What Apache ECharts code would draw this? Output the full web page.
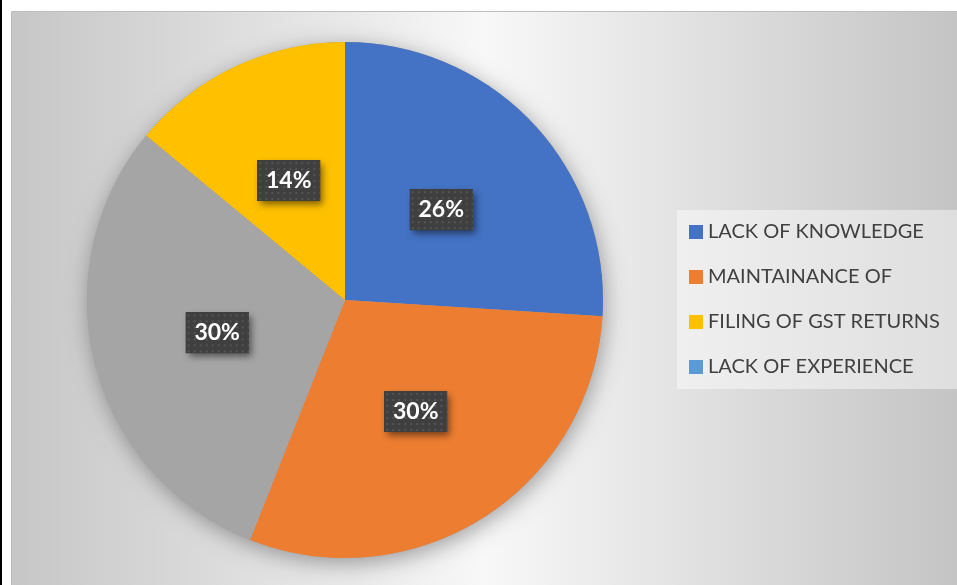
<!DOCTYPE html>
<html>
<head>
<meta charset="utf-8">
<script src="https://cdn.jsdelivr.net/npm/echarts@6/dist/echarts.min.js"></script>
<style>
  html, body { margin: 0; padding: 0; background: #ffffff; }
  #chart { width: 957px; height: 585px; }
</style>
</head>
<body>
<div id="chart"></div>
<script>
// Categories, values and colours of the pie
const categories = ['LACK OF KNOWLEDGE', 'MAINTAINANCE OF', '', 'FILING OF GST RETURNS', 'LACK OF EXPERIENCE'];
const values = [26, 30, 30, 14, 0];
const colors = ['#4472C4', '#ED7D31', '#A5A5A5', '#FFC000', '#5B9BD5'];

// Dark dotted fill used behind the percentage labels
function dottedTile(w, h) {
  const c = document.createElement('canvas');
  c.width = w; c.height = h;
  const g = c.getContext('2d');
  g.fillStyle = '#3f3f3f';
  g.fillRect(0, 0, w, h);
  g.fillStyle = '#555555';
  for (let y = 2; y < h; y += 6) {
    for (let x = 2; x < w; x += 6) {
      g.fillRect(x, y, 2, 2);
    }
  }
  return c;
}
const BOX_W = 63, BOX_H = 41;
const tile = dottedTile(BOX_W, BOX_H);

const chart = echarts.init(document.getElementById('chart'), null, { renderer: 'canvas' });

const pieData = categories.map((name, i) => ({
  name: name,
  value: values[i],
  itemStyle: { color: colors[i] },
  label: { show: values[i] > 0 }
}));

chart.setOption({
  animation: false,
  backgroundColor: '#ffffff',
  graphic: [
    { type: 'rect', left: 0, top: 0, shape: { width: 2, height: 585 }, style: { fill: '#000000' }, z: -10 },
    {
      type: 'rect', left: 11, top: 11, z: -10,
      shape: { width: 946, height: 574 },
      style: {
        fill: {
          type: 'linear', x: 0, y: 0, x2: 1, y2: 0,
          colorStops: [
            { offset: 0, color: '#c6c6c6' },
            { offset: 0.5, color: '#f8f8f8' },
            { offset: 1, color: '#c4c4c4' }
          ]
        },
        stroke: '#bdbdbd', lineWidth: 1
      }
    }
  ],
  legend: {
    orient: 'vertical',
    left: 677,
    top: 210,
    padding: [12, 24, 12, 12],
    backgroundColor: 'rgba(255,255,255,0.45)',
    data: categories.filter(n => n !== ''),
    icon: 'rect',
    itemWidth: 14,
    itemHeight: 14,
    itemGap: 25,
    selectedMode: false,
    textStyle: { color: '#404040', fontSize: 20, fontFamily: 'Lato', lineHeight: 20 }
  },
  series: [
    {
      // soft drop shadow under the whole pie
      type: 'pie',
      silent: true,
      center: [345, 300],
      radius: 258,
      z: 1,
      label: { show: false },
      labelLine: { show: false },
      itemStyle: {
        color: '#a0a0a0',
        shadowBlur: 22,
        shadowColor: 'rgba(0,0,0,0.35)',
        shadowOffsetX: 2,
        shadowOffsetY: 5
      },
      data: [{ name: '__shadow', value: 1 }]
    },
    {
      type: 'pie',
      center: [345, 300],
      radius: 258,
      startAngle: 90,
      clockwise: true,
      z: 2,
      avoidLabelOverlap: false,
      itemStyle: { borderWidth: 0 },
      emphasis: { disabled: true },
      label: {
        position: 'inside',
        formatter: p => '{v|' + Math.round(p.percent) + '%}',
        padding: 0,
        backgroundColor: '#3f3f3f',
        shadowBlur: 7,
        shadowColor: 'rgba(0,0,0,0.5)',
        shadowOffsetX: 3,
        shadowOffsetY: 4,
        rich: {
          v: {
            color: '#ffffff',
            fontFamily: 'Lato',
            fontWeight: 'bold',
            fontSize: 23,
            width: BOX_W,
            height: BOX_H,
            lineHeight: BOX_H,
            align: 'center',
            verticalAlign: 'middle',
            backgroundColor: { image: tile }
          }
        }
      },
      labelLine: { show: false },
      data: pieData
    }
  ]
});
</script>
</body>
</html>
